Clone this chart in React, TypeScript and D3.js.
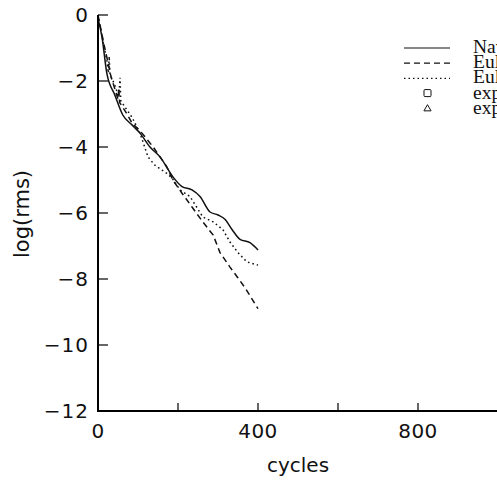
import { useEffect, useRef } from "react";
import * as d3 from "d3";

// log(rms) against cycles
const navierStokes: [number, number][] = [
  [0, -0.1], [10, -0.67], [22, -1.76], [42, -2.42], [62, -3.03], [85, -3.33],
  [105, -3.58], [130, -4.0], [155, -4.3], [187, -4.9], [210, -5.2], [235, -5.3],
  [255, -5.5], [280, -5.97], [300, -6.06], [318, -6.2], [335, -6.5], [355, -6.8],
  [380, -6.9], [400, -7.12],
];

const eulerA: [number, number][] = [
  [0, 0], [15, -0.9], [28, -1.6], [32, -1.85], [45, -2.35], [50, -2.55], [52, -2.2],
  [54, -2.65], [70, -2.95], [85, -3.27], [110, -3.58], [138, -4.0], [172, -4.6],
  [187, -5.0], [210, -5.4], [235, -5.82], [262, -6.27], [288, -6.67], [305, -7.2],
  [330, -7.64], [350, -7.97], [368, -8.27], [400, -8.9],
];

const eulerB: [number, number][] = [
  [0, 0], [12, -0.76], [22, -1.36], [26, -1.76], [28, -1.25], [30, -1.8],
  [42, -2.12], [52, -2.5], [55, -1.9], [57, -2.6], [68, -2.8], [85, -3.1],
  [105, -3.58], [125, -4.3], [142, -4.55], [160, -4.7], [172, -4.8], [185, -4.94],
  [205, -5.3], [230, -5.5], [262, -6.12], [288, -6.27], [312, -6.5], [330, -6.88],
  [350, -7.2], [372, -7.48], [400, -7.58],
];

const xTicks = [0, 200, 400, 600, 800, 1000];
const xTickLabels = [0, 400, 800];
const yTicks = [0, -2, -4, -6, -8, -10, -12];

const legendItems = [
  { label: "Navier-Stokes", kind: "solid" },
  { label: "Euler", kind: "dashed" },
  { label: "Euler", kind: "dotted" },
  { label: "exp.", kind: "square" },
  { label: "exp.", kind: "triangle" },
];

const width = 497;
const height = 483;
const sans = "'DejaVu Sans', sans-serif";
const serif = "'Liberation Serif', 'Times New Roman', serif";

const App = () => {
  const ref = useRef<SVGSVGElement | null>(null);

  useEffect(() => {
    const svg = d3.select(ref.current);
    svg.selectAll("*").remove();

    const x = d3.scaleLinear().domain([0, 1000]).range([98, 498]);
    const y = d3.scaleLinear().domain([-12, 0]).range([411, 15]);

    const line = d3
      .line<[number, number]>()
      .x((d) => x(d[0]))
      .y((d) => y(d[1]));

    const series = [
      { data: navierStokes, dash: null, curve: d3.curveMonotoneX },
      { data: eulerA, dash: "6,4", curve: d3.curveLinear },
      { data: eulerB, dash: "1.6,3", curve: d3.curveLinear },
    ];

    series.forEach((s) => {
      svg
        .append("path")
        .attr("d", line.curve(s.curve)(s.data))
        .attr("fill", "none")
        .attr("stroke", "#111")
        .attr("stroke-width", 1.5)
        .attr("stroke-dasharray", s.dash);
    });

    // axes
    svg
      .append("line")
      .attr("x1", x(0))
      .attr("x2", x(0))
      .attr("y1", y(0))
      .attr("y2", y(-12) + 1)
      .attr("stroke", "#000")
      .attr("stroke-width", 2);
    svg
      .append("line")
      .attr("x1", x(0) - 1)
      .attr("x2", width)
      .attr("y1", y(-12))
      .attr("y2", y(-12))
      .attr("stroke", "#000")
      .attr("stroke-width", 2);

    svg
      .selectAll("yTick")
      .data(yTicks)
      .enter()
      .append("line")
      .attr("x1", x(0))
      .attr("x2", x(0) + 10)
      .attr("y1", (d) => y(d))
      .attr("y2", (d) => y(d))
      .attr("stroke", "#000")
      .attr("stroke-width", 1.2);

    svg
      .selectAll("yLabel")
      .data(yTicks)
      .enter()
      .append("text")
      .attr("x", 89)
      .attr("y", (d) => y(d))
      .attr("dy", "0.36em")
      .attr("text-anchor", "end")
      .attr("fill", "#111")
      .style("font-family", sans)
      .style("font-size", "20px")
      .style("letter-spacing", "1px")
      .text((d) => (d < 0 ? "\u2212" + Math.abs(d) : String(d)));

    svg
      .selectAll("xTick")
      .data(xTicks)
      .enter()
      .append("line")
      .attr("x1", (d) => x(d))
      .attr("x2", (d) => x(d))
      .attr("y1", y(-12))
      .attr("y2", y(-12) - 8)
      .attr("stroke", "#000")
      .attr("stroke-width", 1.2);

    svg
      .selectAll("xLabel")
      .data(xTickLabels)
      .enter()
      .append("text")
      .attr("x", (d) => x(d))
      .attr("y", 438)
      .attr("text-anchor", "middle")
      .attr("fill", "#111")
      .style("font-family", sans)
      .style("font-size", "20px")
      .style("letter-spacing", "0.5px")
      .text((d) => String(d));

    svg
      .append("text")
      .attr("x", 298)
      .attr("y", 472)
      .attr("text-anchor", "middle")
      .attr("fill", "#111")
      .style("font-family", sans)
      .style("font-size", "20px")
      .text("cycles");

    svg
      .append("text")
      .attr("transform", "translate(29,214) rotate(-90)")
      .attr("text-anchor", "middle")
      .attr("fill", "#111")
      .style("font-family", sans)
      .style("font-size", "21px")
      .text("log(rms)");

    // legend
    const legend = svg
      .selectAll("legendRow")
      .data(legendItems)
      .enter()
      .append("g")
      .attr("transform", (d, i) => "translate(0," + (48 + i * 15.2) + ")");

    legend
      .filter((d) => d.kind === "solid" || d.kind === "dashed" || d.kind === "dotted")
      .append("line")
      .attr("x1", 404)
      .attr("x2", 450)
      .attr("y1", 0)
      .attr("y2", 0)
      .attr("stroke", "#111")
      .attr("stroke-width", 1.2)
      .attr("stroke-dasharray", (d) =>
        d.kind === "dashed" ? "6,4" : d.kind === "dotted" ? "1.5,3" : null
      );

    legend
      .filter((d) => d.kind === "square")
      .append("rect")
      .attr("x", 424)
      .attr("y", -4)
      .attr("width", 7)
      .attr("height", 7)
      .attr("rx", 1)
      .attr("fill", "none")
      .attr("stroke", "#111")
      .attr("stroke-width", 1);

    legend
      .filter((d) => d.kind === "triangle")
      .append("path")
      .attr("d", d3.symbol(d3.symbolTriangle, 22)())
      .attr("transform", "translate(427.5,0)")
      .attr("fill", "none")
      .attr("stroke", "#111")
      .attr("stroke-width", 1);

    legend
      .append("text")
      .attr("x", 473)
      .attr("y", 5)
      .attr("fill", "#111")
      .style("font-family", serif)
      .style("font-size", "19.5px")
      .text((d) => d.label);
  }, []);

  return (
    <svg
      ref={ref}
      width={width}
      height={height}
      style={{ position: "absolute", left: 0, top: 0, background: "#fff" }}
    />
  );
};

export default App;
